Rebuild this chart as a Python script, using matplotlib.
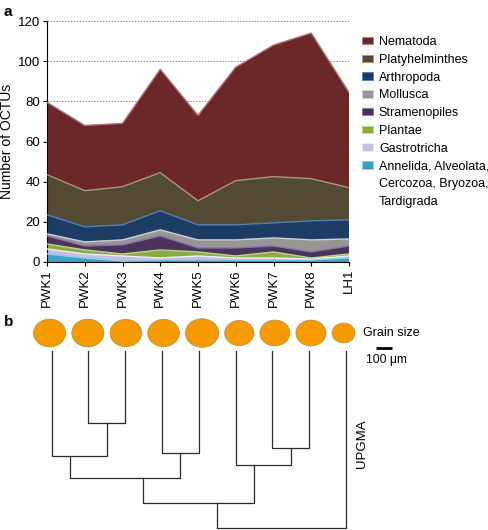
import matplotlib
matplotlib.use('Agg')
import matplotlib.pyplot as plt
import numpy as np
from matplotlib.patches import Ellipse, Patch

plt.rcParams['font.family'] = ['Liberation Sans', 'DejaVu Sans']

# ---- panel a data (number of OCTUs per group, stacked bottom -> top)
sites = ['PWK1', 'PWK2', 'PWK3', 'PWK4', 'PWK5', 'PWK6', 'PWK7', 'PWK8', 'LH1']
groups = ['Annelida, Alveolata,\nCercozoa, Bryozoa,\nTardigrada', 'Gastrotricha',
          'Plantae', 'Stramenopiles', 'Mollusca', 'Arthropoda',
          'Platyhelminthes', 'Nematoda']
annelida = [4, 2, 0.5, 1, 1, 1, 1, 1, 2]
gastrotricha = [2.5, 2, 2.5, 1, 2, 1, 1, 0.5, 1]
plantae = [2.5, 2, 1, 4, 2, 1, 3, 0.5, 1]
stramenopiles = [4, 2, 4.5, 7, 2, 4, 3, 3, 4]
mollusca = [1, 2, 2.5, 3, 4, 4, 4, 6, 3.5]
arthropoda = [9.5, 7.5, 7.5, 9.5, 7.5, 7.5, 7.5, 9.5, 9.5]
platyhelminthes = [20, 18, 19, 19, 12, 22, 23, 21, 16]
nematoda = [36, 32.5, 31.5, 51.5, 42.5, 56.5, 65.5, 72.5, 47.5]

fills = ['#3ca0c8', '#c8bee0', '#8aaa46', '#4a345c', '#969696', '#1c3c64',
         '#524a32', '#6c2828']
edges = ['#86d2ea', '#f0ecf8', '#bcd486', '#8a70a8', '#cfcfcf', '#4f80b6',
         '#a89878', '#b87474']

# ---- panel b data
grain_um = [193, 193, 190, 190, 199, 175, 180, 180, 138]
# UPGMA merges: (child a, child b, relative distance); leaves are 0..8
merges = [(1, 2, 0.405), (6, 7, 0.55), (3, 4, 0.578), (0, 9, 0.593),
          (5, 10, 0.644), (12, 11, 0.718), (14, 13, 0.859), (15, 8, 1.0)]
# where the stem of each merge sits along its bar (drawing style of the tree)
stem_pos = [0.5, 0.5, 0.5, 0.33, 0.335, 0.665, 0.667, 0.5]

fig = plt.figure(figsize=(4.88, 5.30), dpi=100)

# ---------------- panel a
ax = fig.add_axes([47 / 488, 1 - 262 / 530, 302 / 488, 241 / 530])
x = np.arange(len(sites))
layers = [annelida, gastrotricha, plantae, stramenopiles, mollusca,
          arthropoda, platyhelminthes, nematoda]
ax.set_axisbelow(True)
ax.yaxis.grid(True, linestyle=(0, (1.5, 1.5)), color='#888888', lw=0.7)
ax.stackplot(x, layers, colors=fills, linewidth=0, zorder=2)
tops = np.cumsum(np.array(layers, dtype=float), axis=0)
for top, ec in zip(tops, edges):
    ax.plot(x, top, color=ec, lw=1.0, zorder=3, solid_joinstyle='miter')

ax.set_xlim(0, 8)
ax.set_ylim(0, 120)
ax.set_yticks(range(0, 121, 20))
ax.set_xticks(x)
ax.set_xticklabels(sites, rotation=90)
ax.tick_params(labelsize=9.5, length=3, width=0.8, pad=2)
ax.spines['top'].set_visible(False)
ax.spines['right'].set_visible(False)
ax.set_ylabel('Number of OCTUs', fontsize=10, labelpad=3)

# legend: top group first; a multi-line label gets one row per line
leg_handles, leg_labels = [], []
for name, c, e in zip(groups[::-1], fills[::-1], edges[::-1]):
    for i, line in enumerate(name.split('\n')):
        p = Patch(facecolor=c, edgecolor=e, lw=0.6)
        if i > 0:
            p.set_visible(False)
        leg_handles.append(p)
        leg_labels.append(line)
fig.legend(leg_handles, leg_labels, loc='upper left',
           bbox_to_anchor=(362 / 488, 1 - 36 / 530), frameon=False,
           fontsize=9, handlelength=0.9, handleheight=0.55,
           handletextpad=0.45, labelspacing=0.46, borderaxespad=0,
           borderpad=0)

fig.text(4 / 488, 1 - 12 / 530, 'a', fontsize=11, fontweight='bold',
         va='center')
fig.text(4 / 488, 1 - 322 / 530, 'b', fontsize=11, fontweight='bold',
         va='center')

# ---------------- panel b (pixel coordinates)
bx = fig.add_axes([0, 0, 1, 1], zorder=-1)
bx.set_xlim(0, 488)
bx.set_ylim(530, 0)
bx.axis('off')

px_per_um = 0.167
circle_y = 333
edge_x = 33.5
for g in grain_um:
    w = g * px_per_um
    bx.add_patch(Ellipse((edge_x + w / 2, circle_y), w, w * 0.86,
                         facecolor='#f59b00', edgecolor='#b88a4a', lw=0.5))
    edge_x += w + 6

bx.text(363, circle_y, 'Grain size', fontsize=9, va='center', ha='left')
bx.plot([375.7, 375.7 + 100 * px_per_um], [347.5, 347.5], color='black',
        lw=2, solid_capstyle='butt')
bx.text(366, 360, '100 \u03bcm', fontsize=8.7, va='center', ha='left')

leaf_x = 51.5 + 36.8 * np.arange(len(sites))
leaf_top = 350.7
tree_h = 177.6
node_x = list(leaf_x)
node_y = [leaf_top] * len(sites)
for (a, b, d), s in zip(merges, stem_pos):
    y = leaf_top + d * tree_h
    bx.plot([node_x[a], node_x[a], node_x[b], node_x[b]],
            [node_y[a], y, y, node_y[b]], color='#2a2a2a', lw=0.9)
    node_x.append(node_x[a] + s * (node_x[b] - node_x[a]))
    node_y.append(y)

bx.text(362, 444, 'UPGMA', fontsize=9.5, rotation=90, va='center',
        ha='center')

fig.savefig('out.png', dpi=100)
